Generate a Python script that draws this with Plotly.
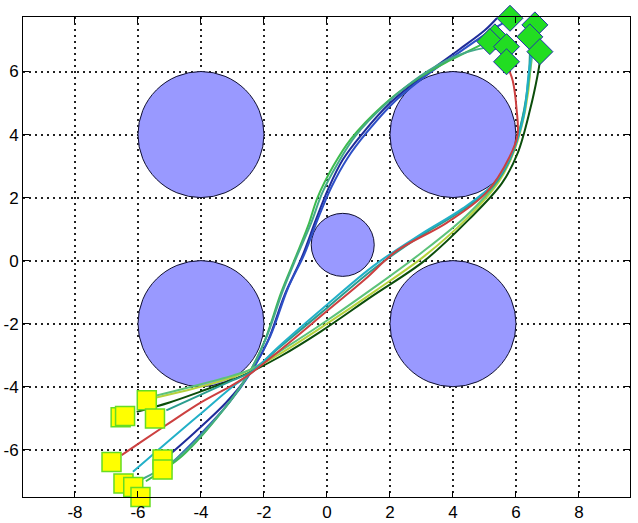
import plotly.graph_objects as go

# obstacles: centre x, centre y, radius
obs_x = [-4, 4, -4, 4, 0.5]
obs_y = [4, 4, -2, -2, 0.5]
obs_r = [2, 2, 2, 2, 1]

# start positions (squares)
start_x = [-6.55, -6.41, -5.72, -5.46, -6.84, -5.22, -5.22, -6.46, -6.15, -5.92]
start_y = [-4.97, -4.93, -4.43, -5.01, -6.39, -6.31, -6.63, -7.07, -7.18, -7.50]

# goal positions (diamonds)
goal_x = [5.47, 5.81, 6.60, 5.33, 5.17, 5.70, 6.44, 6.76, 5.70]
goal_y = [7.79, 7.69, 7.48, 7.10, 6.95, 6.79, 7.10, 6.63, 6.31]

xticks = [-8, -6, -4, -2, 0, 2, 4, 6, 8]
xlabels = ['-8', '-6', '-4', '-2', '0', '2', '4', '6', '8']
yticks = [-6, -4, -2, 0, 2, 4, 6]
ylabels = ['-6', '-4', '-2', '0', '2', '4', '6']

# trajectories
paths = {
    'navy': ([-5.05, -4.2, -3.2, -2.5, -1.9, -1.35, -0.8, -0.35, 0.05, 0.5, 1.1, 2.0, 3.1, 4.2, 5.0, 5.4],
             [-6.2, -5.45, -4.5, -3.65, -2.6, -1.1, 0.1, 1.3, 2.3, 3.2, 4.0, 5.0, 5.9, 6.7, 7.3, 7.7]),
    'blue': ([-5.0, -4.1, -3.1, -2.45, -1.8, -1.25, -0.72, -0.28, 0.15, 0.65, 1.25, 2.15, 3.25, 4.4, 5.2, 5.7],
             [-6.5, -5.6, -4.5, -3.6, -2.4, -0.9, 0.2, 1.35, 2.35, 3.25, 4.05, 5.05, 5.95, 6.75, 7.3, 7.6]),
    'green': ([-5.75, -4.6, -3.5, -2.55, -2.0, -1.45, -1.0, -0.6, -0.3, 0.2, 0.75, 1.75, 2.85, 3.9, 4.6, 5.0],
              [-7.0, -6.2, -5.0, -3.7, -2.6, -1.0, 0.1, 1.1, 2.0, 3.0, 3.85, 4.9, 5.75, 6.35, 6.7, 6.9]),
    'tealgreen': ([-6.0, -4.8, -3.6, -2.55, -1.95, -1.4, -0.95, -0.5, -0.15, 0.35, 0.9, 1.85, 2.95, 4.0, 5.0, 5.6],
                  [-7.0, -6.3, -5.1, -3.7, -2.5, -0.95, 0.15, 1.2, 2.15, 3.1, 3.95, 4.95, 5.85, 6.45, 6.75, 6.8]),
    'darkgreen': ([-6.04, -5.0, -4.0, -3.05, -2.4, -1.5, -0.2, 1.4, 3.1, 4.5, 5.55, 6.05, 6.45, 6.68, 6.78],
                  [-4.8, -4.5, -4.15, -3.8, -3.52, -3.05, -2.25, -1.15, 0.0, 1.3, 2.45, 3.4, 4.8, 5.85, 6.45]),
    'yellowgreen': ([-5.45, -4.2, -3.0, -2.4, -1.4, 0.0, 1.55, 3.1, 4.45, 5.45, 5.95, 6.3, 6.45, 6.45],
                    [-4.35, -4.05, -3.7, -3.45, -2.9, -2.0, -0.95, 0.15, 1.35, 2.5, 3.5, 4.8, 6.0, 7.0]),
    'lightgreen': ([-5.5, -4.3, -3.0, -2.42, -1.45, 0.0, 1.5, 3.0, 4.4, 5.4, 5.9, 6.25, 6.45, 6.6],
                   [-4.3, -4.0, -3.65, -3.45, -2.85, -1.9, -0.85, 0.25, 1.4, 2.5, 3.45, 4.7, 6.0, 7.3]),
    'teal': ([-5.1, -4.0, -3.0, -2.45, -1.5, 0.0, 1.5, 3.0, 4.3, 5.3, 5.85, 6.2, 6.4, 6.45],
             [-4.75, -4.25, -3.8, -3.55, -2.75, -1.5, -0.25, 0.8, 1.6, 2.4, 3.3, 4.5, 5.8, 6.9]),
    'cyan': ([-6.16, -5.0, -4.0, -3.0, -2.45, -1.5, 0.0, 1.5, 3.0, 4.3, 5.3, 5.85, 6.25, 6.4, 6.6],
             [-6.7, -5.7, -4.85, -4.0, -3.6, -2.7, -1.4, -0.15, 0.85, 1.65, 2.45, 3.35, 4.6, 5.9, 7.3]),
    'red': ([-6.52, -5.9, -5.0, -4.0, -3.0, -2.45, -1.5, 0.0, 1.2, 2.2, 3.8, 5.05, 5.8, 6.05, 6.02, 5.9, 5.8],
            [-6.17, -5.75, -5.15, -4.5, -3.95, -3.6, -2.85, -1.6, -0.6, 0.3, 1.2, 2.15, 3.3, 4.0, 4.8, 5.7, 6.0]),
}
colors = {
    'navy': '#1f2c9a', 'blue': '#2d4fc6', 'green': '#3dbb4e', 'tealgreen': '#45a98a',
    'darkgreen': '#0b4d0b', 'yellowgreen': '#b5d23c', 'lightgreen': '#5cc27a',
    'teal': '#2a9d8f', 'cyan': '#22b0c8', 'red': '#cc4040',
}

fig = go.Figure()

for i in range(len(obs_x)):
    fig.add_shape(type='circle', xref='x', yref='y', layer='between',
                  x0=obs_x[i] - obs_r[i], x1=obs_x[i] + obs_r[i],
                  y0=obs_y[i] - obs_r[i], y1=obs_y[i] + obs_r[i],
                  fillcolor='#9999ff', line=dict(color='#101030', width=1))

for name, (px, py) in paths.items():
    fig.add_trace(go.Scatter(x=px, y=py, mode='lines', line_shape='spline',
                             line=dict(color=colors[name], width=2), showlegend=False))

fig.add_trace(go.Scatter(x=start_x, y=start_y, mode='markers', showlegend=False, cliponaxis=False,
                         marker=dict(symbol='square', size=19, color='#ffff00',
                                     line=dict(color='#66dd22', width=1.5))))
fig.add_trace(go.Scatter(x=goal_x, y=goal_y, mode='markers', showlegend=False, cliponaxis=False,
                         marker=dict(symbol='diamond', size=20, color='#22dd22',
                                     line=dict(color='#2233aa', width=1))))

axis_common = dict(showline=True, linecolor='black', linewidth=1, mirror='allticks',
                   ticks='inside', ticklen=6, tickcolor='black', automargin=False,
                   showgrid=True, gridcolor='#222222', gridwidth=1.5, griddash='2px,4px',
                   zeroline=False, tickfont=dict(family='Liberation Sans', size=17, color='black'))

fig.update_xaxes(range=[-9.65, 9.62], tickvals=xticks, ticktext=xlabels, **axis_common)
fig.update_yaxes(range=[-7.5, 7.73], tickvals=yticks, ticktext=ylabels, **axis_common)

fig.update_layout(width=638, height=523, margin=dict(l=23, r=8, t=17, b=26),
                  plot_bgcolor='white', paper_bgcolor='white')

# drop the default body margin so the figure sits at the window corner
fig.write_html("out.html", config={'displayModeBar': False},
               post_script="document.body.style.margin='0';")
